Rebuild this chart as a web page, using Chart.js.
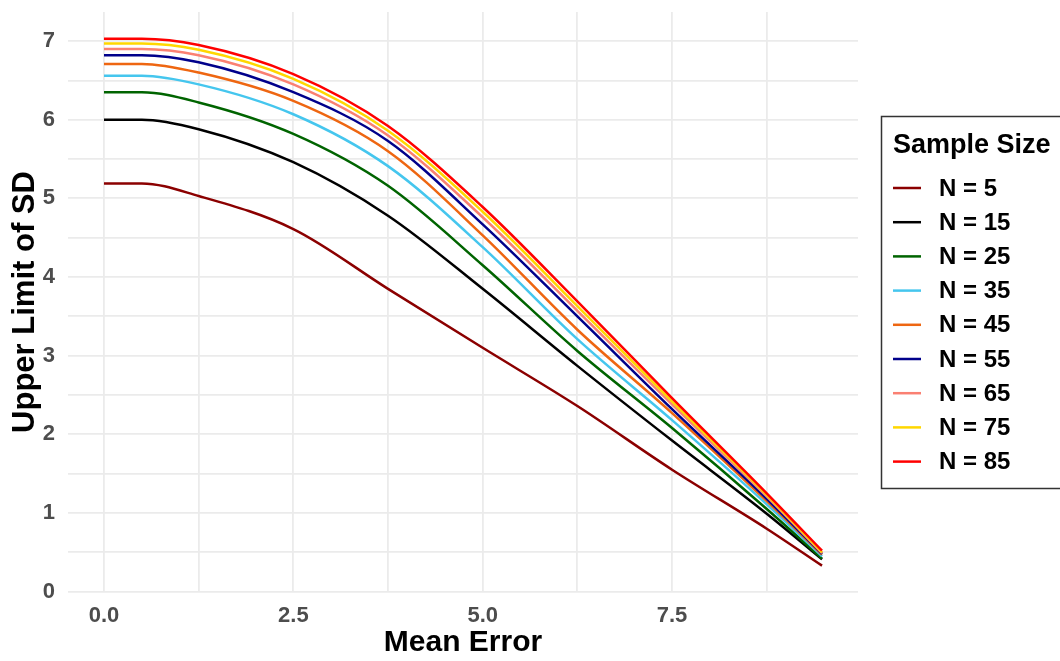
<!DOCTYPE html>
<html>
<head>
<meta charset="utf-8">
<script src="https://cdn.jsdelivr.net/npm/chart.js@4"></script>
<style>
  html, body { margin: 0; padding: 0; background: #fff; }
  #wrap { width: 1060px; height: 661px; position: relative; }
</style>
</head>
<body>
<div id="wrap"><canvas id="chart"></canvas></div>
<script>
// values
const meanError = [0, 0.5, 1.25, 2.5, 3.75, 5, 6.25, 7.5, 8.75, 9.48];
const seriesNames = ['N = 5', 'N = 15', 'N = 25', 'N = 35', 'N = 45', 'N = 55', 'N = 65', 'N = 75', 'N = 85'];
const seriesColors = ['#8B0000', '#000000', '#006400', '#45C6EE', '#EE6611', '#00008B', '#FA8072', '#FFD700', '#FF0000'];

const n5  = [5.19, 5.19, 5.03, 4.61, 3.85, 3.10, 2.36, 1.55, 0.80, 0.33];
const n15 = [6.00, 6.00, 5.88, 5.46, 4.78, 3.85, 2.87, 1.92, 0.99, 0.41];
const n25 = [6.35, 6.35, 6.22, 5.82, 5.16, 4.15, 3.06, 2.08, 1.05, 0.42];
const n35 = [6.56, 6.56, 6.45, 6.07, 5.41, 4.38, 3.21, 2.18, 1.11, 0.45];
const n45 = [6.71, 6.71, 6.60, 6.24, 5.60, 4.53, 3.33, 2.27, 1.15, 0.47];
const n55 = [6.82, 6.82, 6.73, 6.35, 5.73, 4.67, 3.50, 2.32, 1.18, 0.48];
const n65 = [6.90, 6.90, 6.82, 6.45, 5.80, 4.76, 3.57, 2.38, 1.21, 0.49];
const n75 = [6.97, 6.97, 6.89, 6.52, 5.86, 4.83, 3.63, 2.42, 1.23, 0.50];
const n85 = [7.03, 7.03, 6.95, 6.58, 5.92, 4.89, 3.69, 2.46, 1.25, 0.52];
const allSeries = [n5, n15, n25, n35, n45, n55, n65, n75, n85];

const xTicks = [0, 1.25, 2.5, 3.75, 5, 6.25, 7.5, 8.75];
const yTicks = [0, 0.5, 1, 1.5, 2, 2.5, 3, 3.5, 4, 4.5, 5, 5.5, 6, 6.5, 7];

const FONT = '"Liberation Sans", Arial, sans-serif';

const datasets = allSeries.map((vals, i) => ({
  label: seriesNames[i],
  data: vals.map((v, j) => ({ x: meanError[j], y: v })),
  borderColor: seriesColors[i],
  backgroundColor: seriesColors[i],
  borderWidth: 2.5,
  pointRadius: 0,
  cubicInterpolationMode: 'monotone',
  order: allSeries.length - 1 - i
}));

// legend box drawn on the canvas, like ggplot's
const legendBox = {
  id: 'legendBox',
  afterDraw(chart) {
    const ctx = chart.ctx;
    ctx.save();
    ctx.strokeStyle = '#333';
    ctx.lineWidth = 1.5;
    ctx.strokeRect(881.5, 116.5, 200, 372);
    ctx.fillStyle = '#000';
    ctx.textBaseline = 'middle';
    ctx.textAlign = 'left';
    ctx.font = 'bold 27px ' + FONT;
    ctx.fillText('Sample Size', 893, 146);
    ctx.font = 'bold 24px ' + FONT;
    seriesNames.forEach((name, i) => {
      const y = 188 + i * 34.2;
      ctx.strokeStyle = seriesColors[i];
      ctx.lineWidth = 2.5;
      ctx.beginPath();
      ctx.moveTo(893, y);
      ctx.lineTo(921, y);
      ctx.stroke();
      ctx.fillText(name, 939, y + 1);
    });
    ctx.restore();
  }
};

function noOverflow(scale) {
  scale.paddingTop = 0;
  scale.paddingBottom = 0;
  scale.paddingLeft = 0;
  scale.paddingRight = 0;
}

new Chart(document.getElementById('chart'), {
  type: 'line',
  data: { datasets: datasets },
  options: {
    responsive: true,
    maintainAspectRatio: false,
    animation: false,
    layout: { padding: { top: 12, right: 202, left: 0, bottom: 0 } },
    plugins: {
      legend: { display: false },
      tooltip: { enabled: false }
    },
    scales: {
      x: {
        type: 'linear',
        min: -0.475,
        max: 9.955,
        afterBuildTicks: (scale) => { scale.ticks = xTicks.map(v => ({ value: v })); },
        afterFit: (scale) => { scale.height = 69; noOverflow(scale); },
        grid: { color: '#ebebeb', lineWidth: 1.8, drawTicks: false },
        border: { display: false },
        ticks: {
          padding: 11,
          color: '#4d4d4d',
          font: { family: FONT, size: 22, weight: 'bold' },
          autoSkip: false,
          maxRotation: 0,
          callback: (v) => (v % 2.5 === 0 ? v.toFixed(1) : '')
        },
        title: {
          display: true,
          text: 'Mean Error',
          color: '#000',
          padding: { top: 0, bottom: 0 },
          font: { family: FONT, size: 30, weight: 'bold' }
        }
      },
      y: {
        type: 'linear',
        min: -0.005,
        max: 7.37,
        afterBuildTicks: (scale) => { scale.ticks = yTicks.map(v => ({ value: v })); },
        afterFit: (scale) => { scale.width = 68; noOverflow(scale); },
        grid: { color: '#ebebeb', lineWidth: 1.8, drawTicks: false },
        border: { display: false },
        ticks: {
          padding: 13,
          color: '#4d4d4d',
          font: { family: FONT, size: 22, weight: 'bold' },
          autoSkip: false,
          callback: (v) => (Number.isInteger(v) ? String(v) : '')
        },
        title: {
          display: true,
          text: 'Upper Limit of SD',
          color: '#000',
          padding: { top: 7, bottom: 0 },
          font: { family: FONT, size: 31, weight: 'bold' }
        }
      }
    }
  },
  plugins: [legendBox]
});
</script>
</body>
</html>
